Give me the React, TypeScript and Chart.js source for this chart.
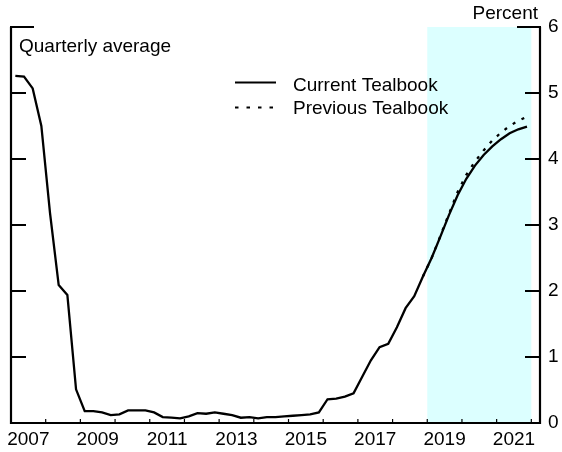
import React, { useEffect, useRef } from "react";
import { Chart, registerables } from "chart.js";

Chart.register(...registerables);

const quarters = [
  "2007Q1", "2007Q2", "2007Q3", "2007Q4",
  "2008Q1", "2008Q2", "2008Q3", "2008Q4",
  "2009Q1", "2009Q2", "2009Q3", "2009Q4",
  "2010Q1", "2010Q2", "2010Q3", "2010Q4",
  "2011Q1", "2011Q2", "2011Q3", "2011Q4",
  "2012Q1", "2012Q2", "2012Q3", "2012Q4",
  "2013Q1", "2013Q2", "2013Q3", "2013Q4",
  "2014Q1", "2014Q2", "2014Q3", "2014Q4",
  "2015Q1", "2015Q2", "2015Q3", "2015Q4",
  "2016Q1", "2016Q2", "2016Q3", "2016Q4",
  "2017Q1", "2017Q2", "2017Q3", "2017Q4",
  "2018Q1", "2018Q2", "2018Q3", "2018Q4",
  "2019Q1", "2019Q2", "2019Q3", "2019Q4",
  "2020Q1", "2020Q2", "2020Q3", "2020Q4",
  "2021Q1", "2021Q2", "2021Q3", "2021Q4",
];

const currentTealbook = [
  5.26, 5.25, 5.07, 4.5,
  3.18, 2.09, 1.94, 0.51,
  0.18, 0.18, 0.16, 0.12,
  0.13, 0.19, 0.19, 0.19,
  0.16, 0.09, 0.08, 0.07,
  0.1, 0.15, 0.14, 0.16,
  0.14, 0.12, 0.08, 0.09,
  0.07, 0.09, 0.09, 0.1,
  0.11, 0.12, 0.13, 0.16,
  0.36, 0.37, 0.4, 0.45,
  0.7, 0.95, 1.15, 1.2,
  1.45, 1.74, 1.92, 2.22,
  2.5, 2.82, 3.15, 3.45,
  3.7, 3.9, 4.06, 4.19,
  4.3, 4.39, 4.45, 4.49,
];

const previousTealbook: (number | null)[] = [
  null, null, null, null,
  null, null, null, null,
  null, null, null, null,
  null, null, null, null,
  null, null, null, null,
  null, null, null, null,
  null, null, null, null,
  null, null, null, null,
  null, null, null, null,
  null, null, null, null,
  null, null, null, null,
  null, null, null, 2.22,
  2.5, 2.83, 3.17, 3.5,
  3.76, 3.96, 4.13, 4.28,
  4.4, 4.5, 4.58, 4.64,
];

const xLabelYears = ["2007", "2009", "2011", "2013", "2015", "2017", "2019", "2021"];
const xTickYears = [2008, 2009, 2010, 2011, 2012, 2013, 2014, 2015, 2016, 2017, 2018, 2019, 2020, 2021, 2022];
const yTickValues = [0, 1, 2, 3, 4, 5, 6];
const xRange = [2007, 2022.25];
const forecastPeriod = [2019, 2022];

const FONT = "'Liberation Sans', Arial, Helvetica, sans-serif";

function quarterToX(q: string): number {
  const year = parseInt(q.slice(0, 4), 10);
  const qn = parseInt(q.slice(5), 10);
  return year + (qn - 0.5) / 4;
}

const decorPlugin = {
  id: "decor",
  beforeDatasetsDraw(chart: any) {
    const { ctx, chartArea, scales } = chart;
    const x0 = scales.x.getPixelForValue(forecastPeriod[0]);
    const x1 = scales.x.getPixelForValue(forecastPeriod[1]);
    ctx.save();
    ctx.fillStyle = "#dcffff";
    ctx.fillRect(x0, chartArea.top, x1 - x0, chartArea.bottom - chartArea.top);
    ctx.restore();
  },
  afterDatasetsDraw(chart: any) {
    const { ctx, chartArea, scales } = chart;
    const { left, right, top, bottom } = chartArea;
    ctx.save();
    ctx.strokeStyle = "#000";
    ctx.lineWidth = 2.2;
    ctx.lineCap = "butt";
    // axes
    ctx.beginPath();
    ctx.moveTo(left, top);
    ctx.lineTo(left, bottom);
    ctx.lineTo(right, bottom);
    ctx.lineTo(right, top);
    ctx.stroke();
    // y ticks on both sides
    ctx.lineWidth = 2;
    yTickValues.forEach((v) => {
      const y = scales.y.getPixelForValue(v);
      const isTop = v === yTickValues[yTickValues.length - 1];
      const len = isTop ? 23 : 15;
      ctx.beginPath();
      ctx.moveTo(left - 1, y);
      ctx.lineTo(left + len, y);
      ctx.moveTo(right + 1, y);
      ctx.lineTo(right - len, y);
      ctx.stroke();
    });
    // x ticks
    ctx.lineWidth = 1.2;
    xTickYears.forEach((yr) => {
      const x = scales.x.getPixelForValue(yr);
      ctx.beginPath();
      ctx.moveTo(x, bottom);
      ctx.lineTo(x, bottom - 4);
      ctx.stroke();
    });
    // texts
    ctx.fillStyle = "#000";
    ctx.font = `19px ${FONT}`;
    ctx.textBaseline = "alphabetic";
    ctx.textAlign = "left";
    ctx.fillText("Quarterly average", left + 8, 52);
    ctx.textAlign = "right";
    ctx.fillText("Percent", right - 2, 19);
    // legend
    ctx.textAlign = "left";
    ctx.lineWidth = 2.2;
    ctx.beginPath();
    ctx.moveTo(235, 82.5);
    ctx.lineTo(276, 82.5);
    ctx.stroke();
    ctx.setLineDash([3.5, 8]);
    ctx.beginPath();
    ctx.moveTo(235, 107.5);
    ctx.lineTo(276, 107.5);
    ctx.stroke();
    ctx.setLineDash([]);
    ctx.fillText("Current Tealbook", 293, 91);
    ctx.fillText("Previous Tealbook", 293, 114);
    ctx.restore();
  },
};

export default function App() {
  const canvasRef = useRef<HTMLCanvasElement | null>(null);

  useEffect(() => {
    document.body.style.margin = "0";
    const canvas = canvasRef.current;
    if (!canvas) return;
    const xs = quarters.map(quarterToX);
    const chart = new Chart(canvas, {
      type: "line",
      data: {
        datasets: [
          {
            label: "Current Tealbook",
            data: xs.map((x, i) => ({ x, y: currentTealbook[i] })),
            borderColor: "#000",
            borderWidth: 2.3,
            pointRadius: 0,
            tension: 0,
            fill: false,
            order: 1,
          },
          {
            label: "Previous Tealbook",
            data: xs.map((x, i) => ({ x, y: previousTealbook[i] })) as any,
            borderColor: "#000",
            borderWidth: 2.3,
            borderDash: [3, 7],
            pointRadius: 0,
            tension: 0,
            fill: false,
            spanGaps: false,
            order: 2,
          },
        ],
      },
      options: {
        animation: false,
        responsive: false,
        devicePixelRatio: 1,
        layout: { padding: { left: 11, top: 27, right: 0, bottom: 0 } },
        plugins: {
          legend: { display: false },
          tooltip: { enabled: false },
          title: { display: false },
        },
        scales: {
          x: {
            type: "linear",
            min: xRange[0],
            max: xRange[1],
            grid: { display: false, drawTicks: false },
            border: { display: false },
            afterBuildTicks: (scale: any) => {
              scale.ticks = xLabelYears.map((y) => ({ value: parseInt(y, 10) + 0.5 }));
            },
            afterFit: (scale: any) => {
              scale.height = 29;
            },
            ticks: {
              autoSkip: false,
              maxRotation: 0,
              padding: 5,
              color: "#000",
              font: { family: FONT, size: 19 },
              callback: (_v: any, i: number) => xLabelYears[i],
            },
          },
          y: {
            type: "linear",
            position: "right",
            min: 0,
            max: 6,
            grid: { display: false, drawTicks: false },
            border: { display: false },
            afterBuildTicks: (scale: any) => {
              scale.ticks = yTickValues.map((v) => ({ value: v }));
            },
            afterFit: (scale: any) => {
              scale.width = 22;
            },
            ticks: {
              padding: 8,
              color: "#000",
              font: { family: FONT, size: 19 },
              callback: (v: any) => String(v),
            },
          },
        },
      },
      plugins: [decorPlugin],
    });
    return () => chart.destroy();
  }, []);

  return (
    <div style={{ width: 562, height: 452 }}>
      <canvas ref={canvasRef} width={562} height={452} style={{ display: "block" }} />
    </div>
  );
}
